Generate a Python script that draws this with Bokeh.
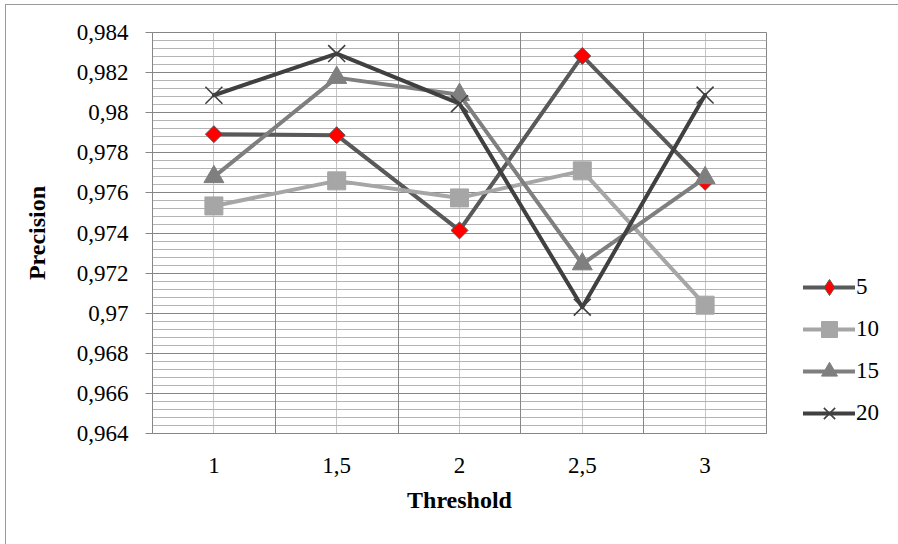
import math

from bokeh.embed import file_html
from bokeh.layouts import row
from bokeh.models import (ColumnDataSource, FixedTicker, Grid, Legend, LegendItem, Range1d)
from bokeh.plotting import figure
from bokeh.resources import INLINE

# Thresholds (category positions and their labels)
x_pos = [1, 2, 3, 4, 5]
x_labels = ["1", "1,5", "2", "2,5", "3"]

# Precision for each window size
prec_5 = [0.97893, 0.97888, 0.97413, 0.98283, 0.97655]
prec_10 = [0.97535, 0.97660, 0.97575, 0.97710, 0.97040]
prec_15 = [0.97680, 0.98175, 0.98090, 0.97245, 0.97675]
prec_20 = [0.98087, 0.98295, 0.98045, 0.97030, 0.98088]

# Y axis ticks
y_ticks = [0.964, 0.966, 0.968, 0.970, 0.972, 0.974, 0.976, 0.978, 0.980, 0.982, 0.984]
y_labels = ["0,964", "0,966", "0,968", "0,97", "0,972", "0,974", "0,976", "0,978", "0,98", "0,982", "0,984"]
y_minor = [round(0.964 + i * 0.0004, 4) for i in range(51)]

FONT = "Liberation Serif"
AX = "#868686"

p = figure(
    width=762, height=539,
    x_range=Range1d(0.5, 5.5), y_range=Range1d(0.964, 0.984),
    output_backend="svg", toolbar_location=None,
    min_border_left=146, min_border_right=2, min_border_top=27, min_border_bottom=111,
)
p.outline_line_color = AX
p.outline_line_width = 1

# Y axis
p.yaxis.ticker = FixedTicker(ticks=y_ticks, minor_ticks=y_minor)
p.yaxis.major_label_overrides = {t: l for t, l in zip(y_ticks, y_labels)}
p.yaxis.axis_line_color = AX
p.yaxis.major_tick_line_color = AX
p.yaxis.major_tick_out = 7
p.yaxis.major_tick_in = 0
p.yaxis.minor_tick_line_color = None
p.yaxis.major_label_standoff = 17
p.yaxis.axis_label = "Precision"
p.yaxis.axis_label_standoff = 24

# X axis
p.xaxis.ticker = FixedTicker(ticks=x_pos)
p.xaxis.major_label_overrides = {t: l for t, l in zip(x_pos, x_labels)}
p.xaxis.axis_line_color = AX
p.xaxis.major_tick_line_color = None
p.xaxis.minor_tick_line_color = None
p.xaxis.major_label_standoff = 18
p.xaxis.axis_label = "Threshold"
p.xaxis.axis_label_standoff = 11

for ax in (p.xaxis, p.yaxis):
    ax.major_label_text_font = FONT
    ax.major_label_text_font_size = "23px"
    ax.major_label_text_color = "black"
    ax.axis_label_text_font = FONT
    ax.axis_label_text_font_size = "24px"
    ax.axis_label_text_font_style = "bold"
    ax.axis_label_text_color = "black"

# Grid: light lines at category centres, dark lines between categories
p.xgrid.ticker = FixedTicker(ticks=x_pos)
p.xgrid.grid_line_color = "#c4c4c4"
p.xgrid.grid_line_width = 1
p.add_layout(Grid(dimension=0, ticker=FixedTicker(ticks=[1.5, 2.5, 3.5, 4.5]),
                  grid_line_color=AX, grid_line_width=1))

p.ygrid.ticker = FixedTicker(ticks=y_ticks, minor_ticks=y_minor)
p.ygrid.grid_line_color = AX
p.ygrid.grid_line_width = 1
p.ygrid.minor_grid_line_color = "#b4b4b4"
p.ygrid.minor_grid_line_width = 1

# (label, values, line colour, marker style on the chart, marker style in the legend)
series = [
    ("5", prec_5, "#595959",
     dict(marker="square", size=12, angle=math.pi / 4,
          fill_color="#ff0000", line_color="#595959", line_width=1),
     dict(marker="diamond", fill_color="#ff0000", line_color="#595959", line_width=1)),
    ("10", prec_10, "#a6a6a6",
     dict(marker="square", size=18, fill_color="#a6a6a6", line_color="#a6a6a6", line_width=1),
     dict(marker="square", fill_color="#a6a6a6", line_color="#a6a6a6", line_width=1)),
    ("15", prec_15, "#7f7f7f",
     dict(marker="triangle", size=20, fill_color="#7f7f7f", line_color="#7f7f7f", line_width=1),
     dict(marker="triangle", fill_color="#7f7f7f", line_color="#7f7f7f", line_width=1)),
    ("20", prec_20, "#404040",
     dict(marker="x", size=24, fill_color=None, line_color="#404040", line_width=1.6),
     dict(marker="x", fill_color=None, line_color="#404040", line_width=1.6)),
]

line_style = dict(line_width=4, line_join="round", line_cap="round")

# Narrow side figure that only carries the legend (its ranges keep the
# series themselves out of view, so only the legend swatches show)
p_leg = figure(
    width=130, height=539,
    x_range=Range1d(-20, -10), y_range=Range1d(0, 1),
    output_backend="svg", toolbar_location=None,
    x_axis_location=None, y_axis_location=None,
    min_border_left=0, min_border_right=0, min_border_top=0, min_border_bottom=0,
)
p_leg.outline_line_color = None
p_leg.grid.visible = False

items = []
for name, vals, color, mk, mk_leg in series:
    src = ColumnDataSource(data=dict(x=x_pos, y=vals))
    p.line("x", "y", source=src, line_color=color, **line_style)
    p.scatter("x", "y", source=src, **mk)
    ln = p_leg.line("x", "y", source=src, line_color=color, **line_style)
    sc = p_leg.scatter("x", "y", source=src, **mk_leg)
    items.append(LegendItem(label=name, renderers=[ln, sc]))

lg = Legend(items=items, location=(35, 0), orientation="vertical",
            border_line_color=None, background_fill_alpha=0,
            padding=0, margin=0, spacing=2,
            glyph_width=52, glyph_height=40, label_height=40, label_standoff=1,
            label_text_font=FONT, label_text_font_size="23px",
            label_text_color="black", label_text_baseline="middle")
p_leg.add_layout(lg)

layout = row(p, p_leg, margin=(4, 0, 0, 5),
             styles={"border-top": "1px solid #9a9a9a", "border-left": "1px solid #9a9a9a"})

open("out.html", "w").write(file_html(layout, INLINE))
